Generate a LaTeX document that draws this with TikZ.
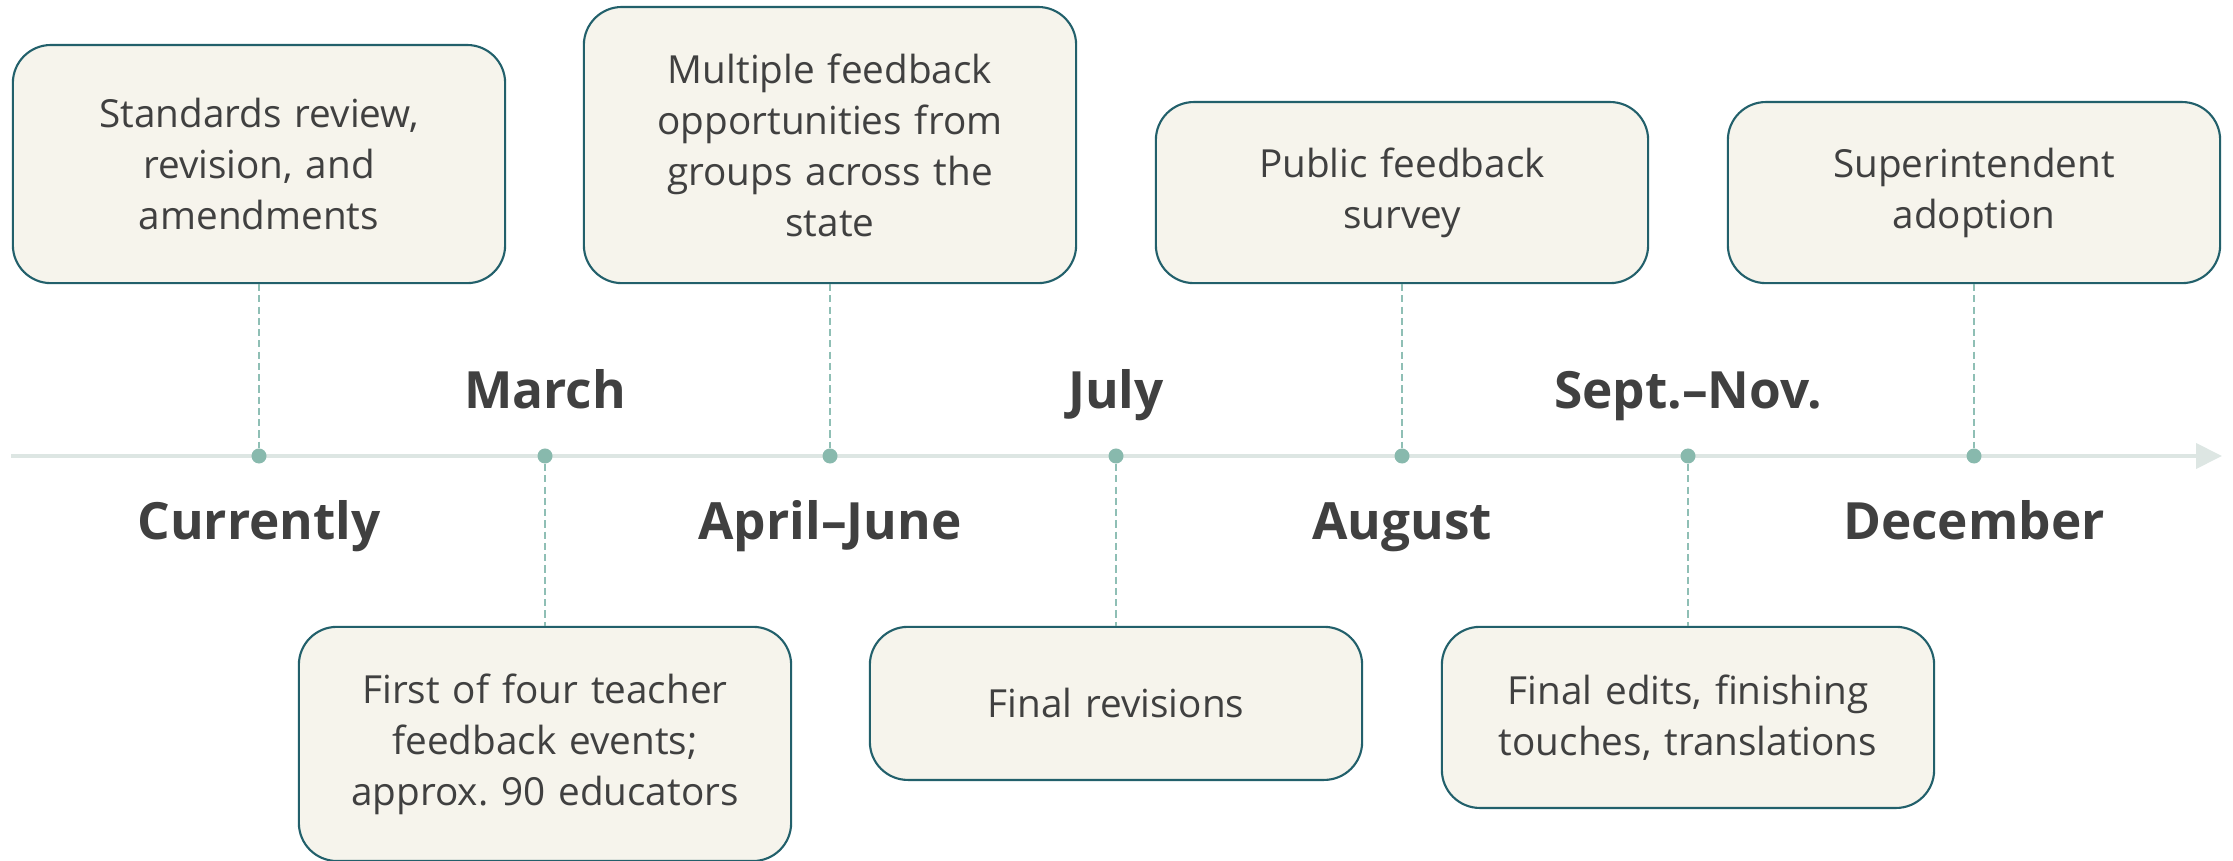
\documentclass[tikz,border=0pt]{standalone}
\usepackage{fontspec}
\setmainfont{Open Sans}
\usetikzlibrary{positioning,arrows.meta}

\definecolor{boxfill}{HTML}{F6F4EC}
\definecolor{boxline}{HTML}{22606B}
\definecolor{dotgreen}{HTML}{88B9AD}
\definecolor{dashgreen}{HTML}{8FBFB5}
\definecolor{axisgray}{HTML}{DDE6E3}
\definecolor{inkgray}{HTML}{404040}

\frenchspacing

\begin{document}
\begin{tikzpicture}[
    x=0.01cm, y=-0.01cm,
    event/.style={rectangle, draw=boxline, line width=0.6pt, fill=boxfill, rounded corners=0.38cm, minimum width=4.92cm, text width=4.6cm, align=center, text=inkgray, font=\fontsize{11pt}{14.5pt}\selectfont},
    dot/.style={circle, fill=dotgreen, minimum size=0.15cm, inner sep=0pt},
    when/.style={text=inkgray, font=\fontsize{14.6pt}{18pt}\selectfont\bfseries, anchor=base},
    tick/.style={draw=dashgreen, line width=0.45pt, dash pattern=on 2pt off 1.2pt},
    axis/.style={draw=axisgray, line width=1.1pt, -{Triangle[length=0.26cm, width=0.25cm]}}
]
\useasboundingbox (0,0) rectangle (2233,861);

% Timeline axis
\coordinate (tstart) at (11,456);
\coordinate (tend) at (2222,456);
\draw[axis] (tstart) -- (tend);

% Milestone dots
\node[dot] (d1) at (259,456) {};
\node[dot] (d2) at (545,456) {};
\node[dot] (d3) at (830,456) {};
\node[dot] (d4) at (1116,456) {};
\node[dot] (d5) at (1402,456) {};
\node[dot] (d6) at (1688,456) {};
\node[dot] (d7) at (1974,456) {};

% Events above the axis
\node[event, minimum height=2.38cm, above=1.635cm of d1] (current) {Standards review,\\revision, and\\amendments};
\node[event, minimum height=2.76cm, above=1.635cm of d3] (spring) {Multiple feedback\\opportunities from\\groups across the\\state};
\node[event, minimum height=1.81cm, above=1.635cm of d5] (survey) {Public feedback\\survey};
\node[event, minimum height=1.81cm, above=1.635cm of d7] (adopt) {Superintendent\\adoption};

% Events below the axis
\node[event, minimum height=2.34cm, below=1.615cm of d2] (teachers) {First of four teacher\\feedback events;\\approx. 90 educators};
\node[event, minimum height=1.53cm, below=1.615cm of d4] (final) {Final revisions};
\node[event, minimum height=1.81cm, below=1.615cm of d6] (edits) {Final edits, finishing\\touches, translations};

% Dates
\node[when] (lcurrent) at (259,540) {Currently};
\node[when] (lmarch) at (545,409) {March};
\node[when] (lapril) at (830,540) {April--June};
\node[when] (ljuly) at (1116,409) {July};
\node[when] (laugust) at (1402,540) {August};
\node[when] (lsept) at (1688,409) {Sept.--Nov.};
\node[when] (ldec) at (1974,540) {December};

% Dashed ticks
\draw[tick] (current) -- (d1);
\draw[tick] (d2) -- (teachers);
\draw[tick] (spring) -- (d3);
\draw[tick] (d4) -- (final);
\draw[tick] (survey) -- (d5);
\draw[tick] (d6) -- (edits);
\draw[tick] (adopt) -- (d7);

\end{tikzpicture}
\end{document}
